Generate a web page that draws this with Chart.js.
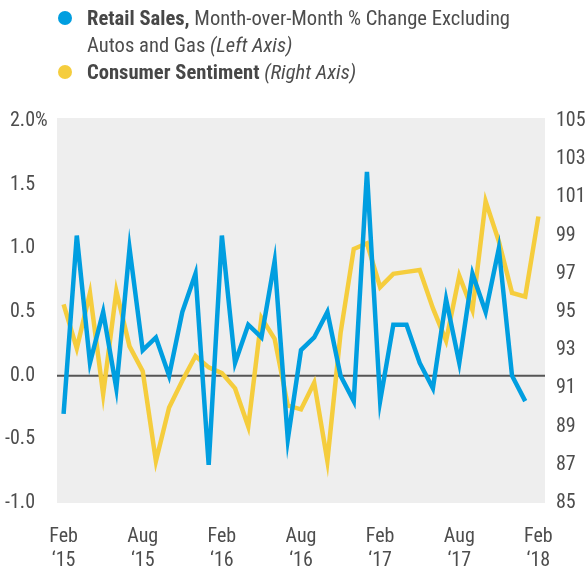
<!DOCTYPE html>
<html>
<head>
<meta charset="utf-8">
<script src="https://cdn.jsdelivr.net/npm/chart.js@4"></script>
<style>
  body { margin: 0; background: #fff; }
  #wrap { position: relative; width: 587px; height: 569px; }
  #myChart { position: absolute; left: 0; top: 0; }
  .legend { position: absolute; left: 87px; font-family: "Roboto Condensed", Roboto, sans-serif; font-size: 20.6px; line-height: 27px; color: #4d4d4d; white-space: nowrap; }
  .legend b { font-weight: 700; color: #474747; }
  .dot { position: absolute; left: 58px; width: 14px; height: 14px; border-radius: 50%; }
</style>
</head>
<body>
<div id="wrap">
  <canvas id="myChart" width="587" height="569"></canvas>
  <div class="dot" style="top:11px;background:#009ee0"></div>
  <div class="legend" style="top:5px"><b>Retail Sales,</b> Month-over-Month % Change Excluding</div>
  <div class="legend" style="top:32px">Autos and Gas <i>(Left Axis)</i></div>
  <div class="dot" style="top:65px;background:#f5cd3d"></div>
  <div class="legend" style="top:59px"><b>Consumer Sentiment</b> <i>(Right Axis)</i></div>
</div>
<script>
const months = [
  "Feb 2015", "Mar 2015", "Apr 2015", "May 2015", "Jun 2015", "Jul 2015", "Aug 2015", "Sep 2015", "Oct 2015", "Nov 2015", "Dec 2015",
  "Jan 2016", "Feb 2016", "Mar 2016", "Apr 2016", "May 2016", "Jun 2016", "Jul 2016", "Aug 2016", "Sep 2016", "Oct 2016", "Nov 2016", "Dec 2016",
  "Jan 2017", "Feb 2017", "Mar 2017", "Apr 2017", "May 2017", "Jun 2017", "Jul 2017", "Aug 2017", "Sep 2017", "Oct 2017", "Nov 2017", "Dec 2017",
  "Jan 2018", "Feb 2018"
];
const tickLabels = [
  ["Feb", "‘15"], ["Aug", "‘15"], ["Feb", "‘16"], ["Aug", "‘16"], ["Feb", "‘17"], ["Aug", "‘17"], ["Feb", "‘18"]
];
// retail sales ex autos & gas, m/m % (left axis), Feb 2015 - Jan 2018
const retailSales = [
  -0.3, 1.1, 0.1, 0.5, -0.1, 1.0, 0.2, 0.3, 0.0, 0.5, 0.8,
  -0.7, 1.1, 0.1, 0.4, 0.3, 0.9, -0.5, 0.2, 0.3, 0.5, 0.0, -0.2,
  1.6, -0.2, 0.4, 0.4, 0.1, -0.1, 0.6, 0.1, 0.8, 0.5, 1.0, 0.0,
  -0.2
];
// consumer sentiment (right axis), Feb 2015 - Feb 2018
const sentiment = [
  95.4, 93.1, 96.0, 90.7, 96.1, 93.2, 91.9, 87.2, 90.0, 91.4, 92.7,
  92.1, 91.8, 91.0, 89.0, 94.7, 93.6, 90.1, 89.9, 91.3, 87.2, 93.9, 98.3,
  98.6, 96.3, 97.0, 97.1, 97.2, 95.2, 93.5, 96.9, 95.1, 100.8, 98.7, 96.0,
  95.8, 100.0
];
const leftTicks = [-1.0, -0.5, 0.0, 0.5, 1.0, 1.5, 2.0];
const rightTicks = [85, 87, 89, 91, 93, 95, 97, 99, 101, 103, 105];

const FONT = { family: "'Roboto Condensed', Roboto, sans-serif", size: 20 };
const TEXT = "#4d4d4d";

const chartBg = {
  id: "chartBg",
  beforeDraw(chart) {
    const { ctx, chartArea: a } = chart;
    ctx.save();
    ctx.fillStyle = "#eeeeee";
    ctx.fillRect(a.left, a.top - 3, a.right - a.left, a.bottom - a.top + 3);
    ctx.restore();
  },
  beforeDatasetsDraw(chart) {
    const { ctx, chartArea: a } = chart;
    const y = chart.scales.y.getPixelForValue(0);
    ctx.save();
    ctx.strokeStyle = "#555555";
    ctx.lineWidth = 2;
    ctx.beginPath();
    ctx.moveTo(a.left, y);
    ctx.lineTo(a.right, y);
    ctx.stroke();
    ctx.restore();
  },
  afterDraw(chart) {
    // the % sign hangs after the top left label
    const s = chart.scales.y;
    const { ctx } = chart;
    ctx.save();
    ctx.font = `${FONT.size}px ${FONT.family}`;
    ctx.fillStyle = TEXT;
    ctx.textAlign = "left";
    ctx.textBaseline = "middle";
    ctx.fillText("%", s.right - s.options.ticks.padding, s.getPixelForValue(2));
    ctx.restore();
  },
};

new Chart(document.getElementById("myChart"), {
  type: "line",
  data: {
    labels: months,
    datasets: [
      {
        label: "Retail Sales",
        data: retailSales,
        yAxisID: "y",
        borderColor: "#009ee0",
        borderWidth: 4.5,
        pointRadius: 0,
        tension: 0,
        borderJoinStyle: "miter",
        order: 0,
      },
      {
        label: "Consumer Sentiment",
        data: sentiment,
        yAxisID: "y1",
        borderColor: "#f5cd3d",
        borderWidth: 4.5,
        pointRadius: 0,
        tension: 0,
        borderJoinStyle: "miter",
        order: 1,
      },
    ],
  },
  options: {
    responsive: false,
    animation: false,
    layout: { padding: { top: 121 } },
    plugins: { legend: { display: false }, tooltip: { enabled: false } },
    scales: {
      x: {
        type: "category",
        offset: true,
        grid: { display: false, drawTicks: false },
        border: { display: false },
        afterFit: (s) => { s.height = 66; },
        ticks: {
          autoSkip: false,
          maxRotation: 0,
          padding: 22,
          color: TEXT,
          font: FONT,
          callback: (v, i) => (i % 6 === 0 ? tickLabels[i / 6] : ""),
        },
      },
      y: {
        position: "left",
        min: -1,
        max: 2,
        grid: { display: false, drawTicks: false },
        border: { display: false },
        afterFit: (s) => { s.width = 57; },
        afterBuildTicks: (s) => { s.ticks = leftTicks.map((v) => ({ value: v })); },
        ticks: {
          padding: 22,
          color: TEXT,
          font: FONT,
          callback: (v) => v.toFixed(1),
        },
      },
      y1: {
        position: "right",
        min: 85,
        max: 105,
        grid: { display: false, drawTicks: false },
        border: { display: false },
        afterFit: (s) => { s.width = 42; },
        afterBuildTicks: (s) => { s.ticks = rightTicks.map((v) => ({ value: v })); },
        ticks: {
          padding: 11,
          color: TEXT,
          font: FONT,
        },
      },
    },
  },
  plugins: [chartBg],
});
</script>
</body>
</html>
